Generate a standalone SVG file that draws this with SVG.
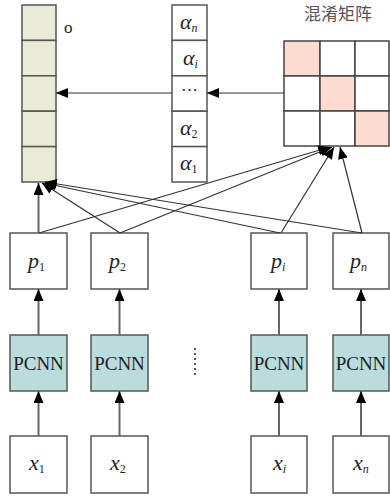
<svg xmlns="http://www.w3.org/2000/svg" width="390" height="498" viewBox="0 0 390 498">
<defs>
<marker id="ah" viewBox="0 0 12 10" refX="12" refY="5" markerWidth="12" markerHeight="10" markerUnits="userSpaceOnUse" orient="auto">
<path d="M0,0 L12,5 L0,10 z" fill="#000"/>
</marker>
</defs>
<style>
.box{fill:#fff;stroke:#555;stroke-width:1.5}
.out{fill:#eaebd6;stroke:#555;stroke-width:1.5}
.pc{fill:#badcdc;stroke:#555;stroke-width:1.5}
.pk{fill:#fcdcd0;stroke:#444;stroke-width:1.5}
.mw{fill:#fff;stroke:#444;stroke-width:1.5}
.ln{stroke:#333;stroke-width:1.2;fill:none}
.v{stroke:#666;stroke-width:2;fill:none}
.it{font-family:"Liberation Serif",serif;font-style:italic;font-size:22px;fill:#222}
.sub{font-family:"Liberation Serif",serif;font-size:12px}
.up{font-style:normal}
.pcn{font-family:"Liberation Serif",serif;font-size:19px;fill:#222}
.t{font-family:"Liberation Serif",serif;font-size:17px;fill:#222}
.cjk{font-family:"Noto Sans CJK SC",sans-serif;font-size:17px;fill:#555}
</style>
<g id="output">
<rect class="out" x="22" y="5" width="34" height="35.4"/>
<rect class="out" x="22" y="40.4" width="34" height="35.4"/>
<rect class="out" x="22" y="75.8" width="34" height="35.4"/>
<rect class="out" x="22" y="111.2" width="34" height="35.4"/>
<rect class="out" x="22" y="146.6" width="34" height="35.4"/>
<text class="t" x="64" y="33">o</text>
</g>
<g id="alpha">
<rect class="box" x="172" y="5" width="35" height="35.4"/>
<rect class="box" x="172" y="40.4" width="35" height="35.4"/>
<rect class="box" x="172" y="75.8" width="35" height="35.4"/>
<rect class="box" x="172" y="111.2" width="35" height="35.4"/>
<rect class="box" x="172" y="146.6" width="35" height="35.4"/>
<text class="it" x="180" y="29">α<tspan class="sub" dy="3">n</tspan></text>
<text class="it" x="183" y="65">α<tspan class="sub" dy="3">i</tspan></text>
<text class="t" x="189.5" y="96" text-anchor="middle" font-size="12">···</text>
<text class="it" x="180" y="135">α<tspan class="sub up" dy="3">2</tspan></text>
<text class="it" x="180" y="170">α<tspan class="sub up" dy="3">1</tspan></text>
</g>
<g id="matrix">
<text class="cjk" x="338" y="20" text-anchor="middle">混淆矩阵</text>
<rect class="pk" x="284" y="41" width="36" height="35"/>
<rect class="mw" x="320" y="41" width="35" height="35"/>
<rect class="mw" x="355" y="41" width="34" height="35"/>
<rect class="mw" x="284" y="76" width="36" height="35"/>
<rect class="pk" x="320" y="76" width="35" height="35"/>
<rect class="mw" x="355" y="76" width="34" height="35"/>
<rect class="mw" x="284" y="111" width="36" height="35"/>
<rect class="mw" x="320" y="111" width="35" height="35"/>
<rect class="pk" x="355" y="111" width="34" height="35"/>
</g>
<g id="p1"><rect class="box" x="10" y="233" width="57" height="56"/><text class="it" x="28" y="268">p<tspan class="sub up" dy="3">1</tspan></text></g>
<g id="p2"><rect class="box" x="91" y="233" width="57" height="56"/><text class="it" x="109" y="268">p<tspan class="sub up" dy="3">2</tspan></text></g>
<g id="pi"><rect class="box" x="251" y="233" width="56" height="56"/><text class="it" x="271" y="268">p<tspan class="sub" dy="3">i</tspan></text></g>
<g id="pn"><rect class="box" x="333" y="233" width="56" height="56"/><text class="it" x="350" y="268">p<tspan class="sub" dy="3">n</tspan></text></g>
<g id="pcnn1"><rect class="pc" x="10" y="335" width="57" height="56"/><text class="pcn" x="38.5" y="370" text-anchor="middle">PCNN</text></g>
<g id="pcnn2"><rect class="pc" x="91" y="335" width="57" height="56"/><text class="pcn" x="119.5" y="370" text-anchor="middle">PCNN</text></g>
<g id="pcnni"><rect class="pc" x="251" y="335" width="56" height="56"/><text class="pcn" x="279" y="370" text-anchor="middle">PCNN</text></g>
<g id="pcnnn"><rect class="pc" x="333" y="335" width="56" height="56"/><text class="pcn" x="361" y="370" text-anchor="middle">PCNN</text></g>
<g id="x1"><rect class="box" x="10" y="436" width="57" height="57"/><text class="it" x="29" y="470">x<tspan class="sub up" dy="3">1</tspan></text></g>
<g id="x2"><rect class="box" x="91" y="436" width="57" height="57"/><text class="it" x="110" y="470">x<tspan class="sub up" dy="3">2</tspan></text></g>
<g id="xi"><rect class="box" x="251" y="436" width="56" height="57"/><text class="it" x="273" y="470">x<tspan class="sub" dy="3">i</tspan></text></g>
<g id="xn"><rect class="box" x="333" y="436" width="56" height="57"/><text class="it" x="353" y="470">x<tspan class="sub" dy="3">n</tspan></text></g>
<g id="dots" fill="#555">
<rect x="194" y="348" width="2" height="2"/><rect x="194" y="353" width="2" height="2"/><rect x="194" y="358" width="2" height="2"/><rect x="194" y="363" width="2" height="2"/><rect x="194" y="368" width="2" height="2"/><rect x="194" y="373" width="2" height="2"/>
</g>
<g id="connectors">
<line class="ln" x1="284" y1="93" x2="207" y2="93" marker-end="url(#ah)"/>
<line class="ln" x1="172" y1="93" x2="56" y2="93" marker-end="url(#ah)"/>
<line class="v" x1="38.5" y1="436" x2="38.5" y2="391" marker-end="url(#ah)"/>
<line class="v" x1="119.5" y1="436" x2="119.5" y2="391" marker-end="url(#ah)"/>
<line class="v" x1="279" y1="436" x2="279" y2="391" marker-end="url(#ah)"/>
<line class="v" x1="361" y1="436" x2="361" y2="391" marker-end="url(#ah)"/>
<line class="v" x1="38.5" y1="335" x2="38.5" y2="289" marker-end="url(#ah)"/>
<line class="v" x1="119.5" y1="335" x2="119.5" y2="289" marker-end="url(#ah)"/>
<line class="v" x1="279" y1="335" x2="279" y2="289" marker-end="url(#ah)"/>
<line class="v" x1="361" y1="335" x2="361" y2="289" marker-end="url(#ah)"/>
<line class="v" x1="38.5" y1="233" x2="38.5" y2="183" marker-end="url(#ah)"/>
<line class="ln" x1="120" y1="233" x2="42" y2="183" marker-end="url(#ah)"/>
<line class="ln" x1="280" y1="233" x2="44" y2="183" marker-end="url(#ah)"/>
<line class="ln" x1="362" y1="233" x2="45" y2="182" marker-end="url(#ah)"/>
<line class="ln" x1="39" y1="233" x2="330" y2="147" marker-end="url(#ah)"/>
<line class="ln" x1="120" y1="233" x2="332" y2="147" marker-end="url(#ah)"/>
<line class="ln" x1="281" y1="233" x2="334" y2="147" marker-end="url(#ah)"/>
<line class="ln" x1="362" y1="233" x2="340" y2="147" marker-end="url(#ah)"/>
</g>
</svg>
